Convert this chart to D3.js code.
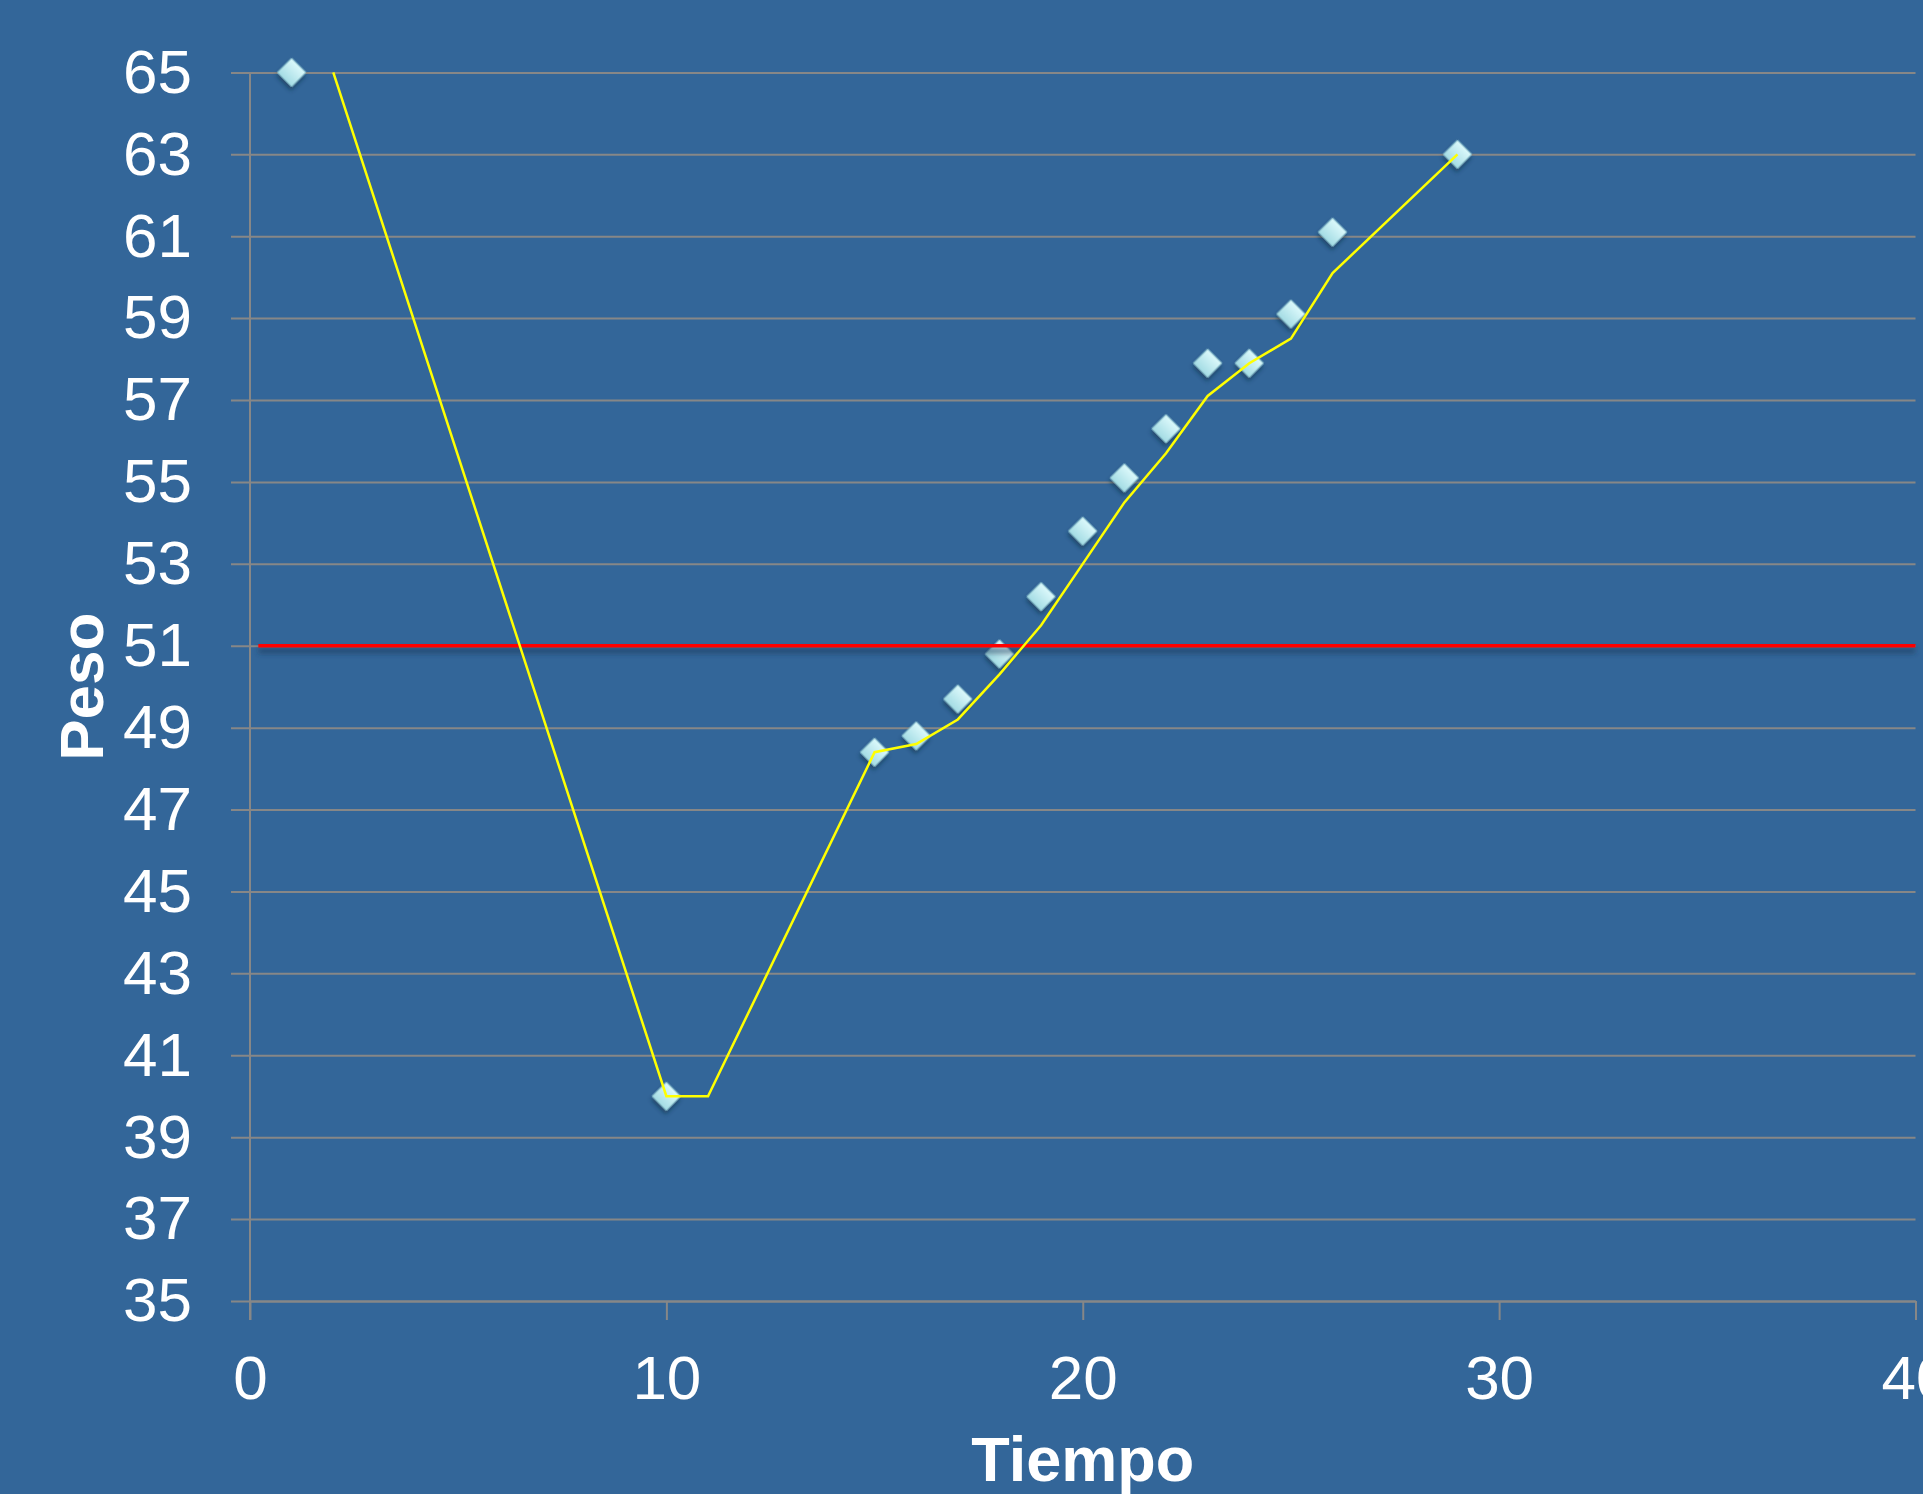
<!DOCTYPE html>
<html>
<head>
<meta charset="utf-8">
<script src="https://cdn.jsdelivr.net/npm/d3@7"></script>
<style>
  html, body { margin: 0; padding: 0; background: #336699; }
  #chart svg { display: block; }
</style>
</head>
<body>
<div id="chart"></div>
<script>
// =====================================
// DATA
// =====================================

// measured points (diamonds)
const pointX = [1, 10, 15, 16, 17, 18, 19, 20, 21, 22, 23, 24, 25, 26, 29];
const pointY = [65, 40, 48.4, 48.8, 49.7, 50.8, 52.2, 53.8, 55.1, 56.3, 57.9, 57.9, 59.1, 61.1, 63];

// yellow trend line
const trendX = [2, 10, 11, 15, 16, 17, 18, 19, 20, 21, 22, 23, 24, 25, 26, 29];
const trendY = [65, 40, 40, 48.4, 48.6, 49.2, 50.3, 51.5, 53.0, 54.5, 55.7, 57.1, 57.9, 58.5, 60.1, 63];

// red reference line
const refX = [0.2, 40];
const refY = [51, 51];

const xTicks = [0, 10, 20, 30, 40];
const yTicks = [35, 37, 39, 41, 43, 45, 47, 49, 51, 53, 55, 57, 59, 61, 63, 65];

const xTitle = "Tiempo";
const yTitle = "Peso";

// =====================================
// DIMENSIONS
// =====================================

const width = 1923;
const height = 1494;

const margin = {
  top: 72.4,
  right: 7,
  bottom: 193,
  left: 250
};

const tickLen = 19;
const fontFamily = "'Liberation Sans', Arial, Helvetica, sans-serif";

// =====================================
// SVG
// =====================================

const svg = d3.select("#chart")
  .append("svg")
  .attr("width", width)
  .attr("height", height)
  .attr("viewBox", `0 0 ${width} ${height}`);

svg.append("rect")
  .attr("width", width)
  .attr("height", height)
  .attr("fill", "#336699");

const defs = svg.append("defs");

const grad = defs.append("linearGradient")
  .attr("id", "markerFill")
  .attr("x1", 0).attr("y1", 0)
  .attr("x2", 0).attr("y2", 1);
grad.append("stop").attr("offset", "0%").attr("stop-color", "#dcf9fb");
grad.append("stop").attr("offset", "100%").attr("stop-color", "#a4dce4");

const shadow = defs.append("filter")
  .attr("id", "markerShadow")
  .attr("x", "-50%").attr("y", "-50%")
  .attr("width", "200%").attr("height", "200%");
shadow.append("feDropShadow")
  .attr("dx", 2).attr("dy", 3)
  .attr("stdDeviation", 2)
  .attr("flood-color", "#16304a")
  .attr("flood-opacity", 0.6);

// horizontal line has a zero-height box, so the blur uses user space
const lineShadow = defs.append("filter")
  .attr("id", "lineShadow")
  .attr("filterUnits", "userSpaceOnUse")
  .attr("x", 0).attr("y", 0)
  .attr("width", width).attr("height", height);
lineShadow.append("feGaussianBlur")
  .attr("stdDeviation", 2.5);

// =====================================
// SCALES
// =====================================

const x = d3.scaleLinear()
  .domain([0, 40])
  .range([margin.left, width - margin.right - 0.5]);

const y = d3.scaleLinear()
  .domain([35, 65])
  .range([height - margin.bottom, margin.top]);

// =====================================
// GRIDLINES
// =====================================

const grid = svg.append("g")
  .attr("transform", `translate(${x(40)},0)`)
  .call(
    d3.axisLeft(y)
      .tickValues(yTicks)
      .tickSize(x(40) - x(0) + tickLen)
      .tickFormat("")
  );

grid.select(".domain").remove();
grid.selectAll("line")
  .attr("stroke", "#878787")
  .attr("stroke-width", 2);

// =====================================
// Y AXIS
// =====================================

const yAxis = svg.append("g")
  .attr("transform", `translate(${x(0) - tickLen},0)`)
  .call(
    d3.axisLeft(y)
      .tickValues(yTicks)
      .tickSize(0)
      .tickPadding(39)
  );

yAxis.select(".domain").remove();
yAxis.selectAll("text")
  .attr("fill", "white")
  .style("font-family", fontFamily)
  .style("font-size", "62px");

svg.append("line")
  .attr("x1", x(0)).attr("x2", x(0))
  .attr("y1", y(65))
  .attr("y2", y(35) + tickLen)
  .attr("stroke", "#878787")
  .attr("stroke-width", 2);

// =====================================
// X AXIS
// =====================================

const xAxis = svg.append("g")
  .attr("transform", `translate(0,${y(35)})`)
  .call(
    d3.axisBottom(x)
      .tickValues(xTicks)
      .tickSize(tickLen)
      .tickSizeOuter(0)
      .tickPadding(35)
  );

xAxis.select(".domain")
  .attr("stroke", "#878787")
  .attr("stroke-width", 2);
xAxis.selectAll("line")
  .attr("stroke", "#878787")
  .attr("stroke-width", 2);
xAxis.selectAll("text")
  .attr("fill", "white")
  .style("font-family", fontFamily)
  .style("font-size", "62px");

// =====================================
// AXIS TITLES
// =====================================

svg.append("text")
  .attr("x", (x(0) + x(40)) / 2)
  .attr("y", 1481)
  .attr("text-anchor", "middle")
  .attr("fill", "white")
  .style("font-family", fontFamily)
  .style("font-weight", "700")
  .style("font-size", "63px")
  .text(xTitle);

svg.append("text")
  .attr("transform", `translate(103,${(y(35) + y(65)) / 2}) rotate(-90)`)
  .attr("text-anchor", "middle")
  .attr("fill", "white")
  .style("font-family", fontFamily)
  .style("font-weight", "700")
  .style("font-size", "62px")
  .text(yTitle);

// =====================================
// MARKERS
// =====================================

const points = pointX.map((v, i) => ({ x: v, y: pointY[i] }));

svg.append("g")
  .selectAll("path")
  .data(points)
  .enter()
  .append("path")
  .attr("d", d3.symbol(d3.symbolSquare, 400))
  .attr("transform", d => `translate(${x(d.x)},${y(d.y)}) rotate(45)`)
  .attr("fill", "url(#markerFill)")
  .attr("stroke", "#8cc3cf")
  .attr("stroke-width", 1)
  .attr("filter", "url(#markerShadow)");

// =====================================
// RED REFERENCE LINE
// =====================================

const line = d3.line()
  .x(d => x(d.x))
  .y(d => y(d.y));

const ref = refX.map((v, i) => ({ x: v, y: refY[i] }));

// soft shadow under the red line
svg.append("path")
  .datum(ref)
  .attr("d", line)
  .attr("transform", "translate(0,5)")
  .attr("fill", "none")
  .attr("stroke", "#1b3a5a")
  .attr("stroke-opacity", 0.55)
  .attr("stroke-width", 6)
  .attr("filter", "url(#lineShadow)");

svg.append("path")
  .datum(ref)
  .attr("d", line)
  .attr("fill", "none")
  .attr("stroke", "#ff0000")
  .attr("stroke-width", 3.5);

// =====================================
// YELLOW TREND LINE
// =====================================

const trend = trendX.map((v, i) => ({ x: v, y: trendY[i] }));

svg.append("path")
  .datum(trend)
  .attr("d", line)
  .attr("fill", "none")
  .attr("stroke", "#ffff00")
  .attr("stroke-width", 2.5)
  .attr("stroke-linejoin", "miter");
</script>
</body>
</html>
